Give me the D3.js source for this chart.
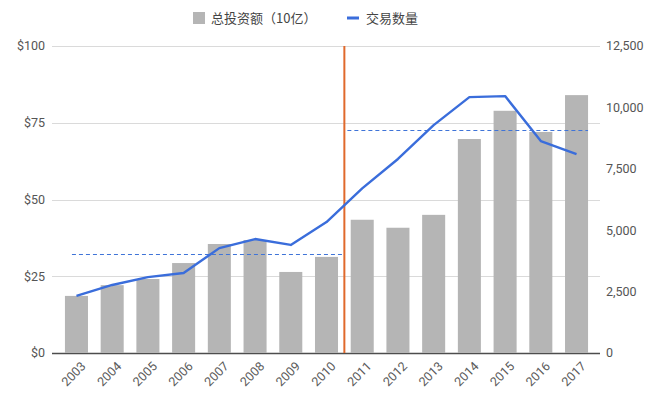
<!DOCTYPE html>
<html>
<head>
<meta charset="utf-8">
<script src="https://cdn.jsdelivr.net/npm/d3@7/dist/d3.min.js"></script>
<style>
  body { margin: 0; background: #fff; }
  svg { display: block; font-family: Roboto, "Noto Sans CJK SC", sans-serif; }
</style>
</head>
<body>
<script>
// data
var years = ["2003","2004","2005","2006","2007","2008","2009","2010",
             "2011","2012","2013","2014","2015","2016","2017"];
var investment = [18.6, 22.1, 24.1, 29.3, 35.5, 36.8, 26.4, 31.3,
                  43.4, 40.8, 45.0, 69.7, 78.9, 72.0, 84.0];   // $ billions
var dealCount = [2330, 2770, 3090, 3260, 4270, 4640, 4400, 5330,
                 6700, 7900, 9280, 10420, 10460, 8630, 8100];
var leftTicks = [0, 25, 50, 75, 100];
var rightTicks = [0, 2500, 5000, 7500, 10000, 12500];
var avgLevels = [4050, 9080];   // dashed reference levels (deal count)
var splitYear = "2011";
var legendLabels = ["总投资额（10亿）", "交易数量"];

var width = 650, height = 399;
var plotTop = 46, plotBottom = 353, plotLeft = 58.6, plotRight = 594.4;

var svg = d3.select("body").append("svg")
    .attr("width", width)
    .attr("height", height);

var x = d3.scaleBand().domain(years).range([plotLeft, plotRight]).paddingInner(0.355).paddingOuter(0.1775);
var yL = d3.scaleLinear().domain([0, 100]).range([plotBottom, plotTop]);
var yR = d3.scaleLinear().domain([0, 12500]).range([plotBottom, plotTop]);

// grid lines (from left scale) with short tick stubs on both sides
svg.append("g").selectAll("line")
    .data(leftTicks)
    .enter().append("line")
    .attr("x1", 52).attr("x2", 600)
    .attr("y1", function (d) { return Math.round(yL(d)) + 0.5; })
    .attr("y2", function (d) { return Math.round(yL(d)) + 0.5; })
    .attr("stroke", function (d) { return d === 0 ? "#4d4d4d" : "#dadada"; })
    .attr("stroke-width", function (d) { return d === 0 ? 1.3 : 1; });

// left labels
svg.append("g").selectAll("text")
    .data(leftTicks)
    .enter().append("text")
    .attr("x", 45)
    .attr("y", function (d) { return yL(d); })
    .attr("dy", "0.35em")
    .attr("text-anchor", "end")
    .attr("font-size", 12.5)
    .attr("fill", "#555")
    .text(function (d) { return "$" + d; });

// right labels
svg.append("g").selectAll("text")
    .data(rightTicks)
    .enter().append("text")
    .attr("x", 606)
    .attr("y", function (d) { return yR(d); })
    .attr("dy", "0.35em")
    .attr("font-size", 12.5)
    .attr("fill", "#555")
    .text(function (d) { return d3.format(",")(d); });

// bars
svg.append("g").selectAll("rect")
    .data(years)
    .enter().append("rect")
    .attr("x", function (d) { return x(d); })
    .attr("width", x.bandwidth())
    .attr("y", function (d, i) { return yL(investment[i]); })
    .attr("height", function (d, i) { return plotBottom - yL(investment[i]); })
    .attr("fill", "#b5b5b5");

// orange split line between the two periods
var splitX = x(splitYear) - x.step() * x.paddingInner() / 2;
svg.append("line")
    .attr("x1", splitX).attr("x2", splitX)
    .attr("y1", plotTop).attr("y2", plotBottom)
    .attr("stroke", "#e0692c")
    .attr("stroke-width", 2);

// dashed average lines
var dashSegs = [
    {x1: x(years[0]) + 7, x2: splitX - 2, v: avgLevels[0]},
    {x1: splitX + 3, x2: x(years[years.length - 1]) + x.bandwidth(), v: avgLevels[1]}
];
svg.append("g").selectAll("line")
    .data(dashSegs)
    .enter().append("line")
    .attr("x1", function (d) { return d.x1; })
    .attr("x2", function (d) { return d.x2; })
    .attr("y1", function (d) { return Math.round(yR(d.v)) + 0.5; })
    .attr("y2", function (d) { return Math.round(yR(d.v)) + 0.5; })
    .attr("stroke", "#3f74d8")
    .attr("stroke-width", 1)
    .attr("stroke-dasharray", "4,3");

// deal count line
var line = d3.line()
    .x(function (d, i) { return x(years[i]) + x.bandwidth() / 2; })
    .y(function (d) { return yR(d); });

svg.append("path")
    .datum(dealCount)
    .attr("d", line)
    .attr("fill", "none")
    .attr("stroke", "#3a6ddb")
    .attr("stroke-width", 2.4)
    .attr("stroke-linejoin", "round");

// x labels, rotated
svg.append("g").selectAll("text")
    .data(years)
    .enter().append("text")
    .attr("transform", function (d) {
        return "translate(" + (x(d) + x.bandwidth() / 2 + 7) + ",364) rotate(-45)";
    })
    .attr("text-anchor", "end")
    .attr("dy", "0.35em")
    .attr("font-size", 12.5)
    .attr("fill", "#5a5a5a")
    .text(function (d) { return d; });

// legend
var lg = svg.append("g").attr("font-size", 13).attr("fill", "#444")
    .attr("font-family", "'Noto Sans CJK SC', sans-serif");
lg.append("rect").attr("x", 193).attr("y", 12).attr("width", 12).attr("height", 12).attr("fill", "#b5b5b5");
lg.append("text").attr("x", 211).attr("y", 18).attr("dy", "0.35em").text(legendLabels[0]);
lg.append("rect").attr("x", 347).attr("y", 16.5).attr("width", 12).attr("height", 3).attr("fill", "#3a6ddb");
lg.append("text").attr("x", 366).attr("y", 18).attr("dy", "0.35em").text(legendLabels[1]);
</script>
</body>
</html>
